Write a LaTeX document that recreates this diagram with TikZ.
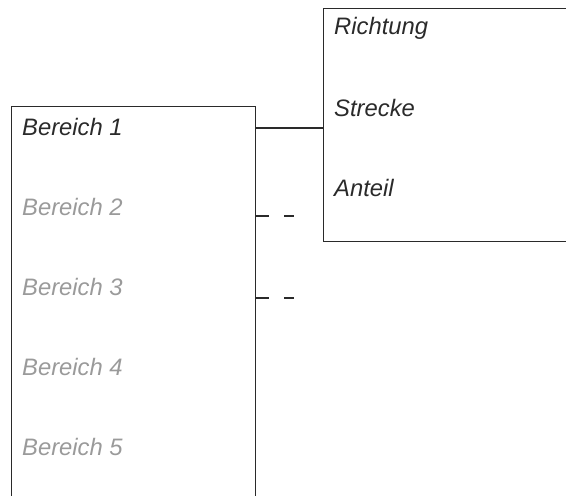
\documentclass[tikz,border=0pt]{standalone}
\usepackage{fontspec}
\setmainfont{Liberation Sans}
\usepackage{tikz}
\usetikzlibrary{positioning}
\definecolor{linegray}{HTML}{2A2A2A}
\definecolor{fadegray}{HTML}{9A9A9A}

\begin{document}
\begin{tikzpicture}[
    x=1pt, y=-1pt,
    font=\fontsize{23.8}{28}\selectfont\itshape,
    frame/.style={draw=linegray, line width=1.2pt, inner sep=0pt},
    entry/.style={anchor=west, inner sep=0pt, text=linegray},
    faded/.style={entry, text=fadegray},
    link/.style={draw=linegray, line width=1.2pt},
    hint/.style={link, dash pattern=on 13pt off 15pt}
]
  \useasboundingbox (0,0) rectangle (566,496);
  \clip (0,0) rectangle (566,496);

  % boxes (cut off by the picture border)
  \node[frame, minimum width=244pt, minimum height=420pt, anchor=north west] (bereiche) at (11,106) {};
  \node[frame, minimum width=270pt, minimum height=233pt, anchor=north west] (ziel) at (323,8) {};

  % left list
  \node[entry] (b1) at (22,127) {Bereich 1};
  \node[faded, below=80pt of b1.west, anchor=west] (b2) {Bereich 2};
  \node[faded, below=80pt of b2.west, anchor=west] (b3) {Bereich 3};
  \node[faded, below=80pt of b3.west, anchor=west] (b4) {Bereich 4};
  \node[faded, below=80pt of b4.west, anchor=west] (b5) {Bereich 5};

  % right list
  \node[entry] (richtung) at (334,28) {Richtung};
  \node[entry, below=80pt of richtung.west, anchor=west] (strecke) {Strecke};
  \node[entry, below=80pt of strecke.west, anchor=west] (anteil) {Anteil};

  \coordinate (h2) at (294,216);
  \coordinate (h3) at (294,298);

  \draw[link] (bereiche.east |- 0,128) -- (ziel.west |- 0,128);
  \draw[hint] (bereiche.east |- h2) -- (h2);
  \draw[hint] (bereiche.east |- h3) -- (h3);
\end{tikzpicture}
\end{document}
